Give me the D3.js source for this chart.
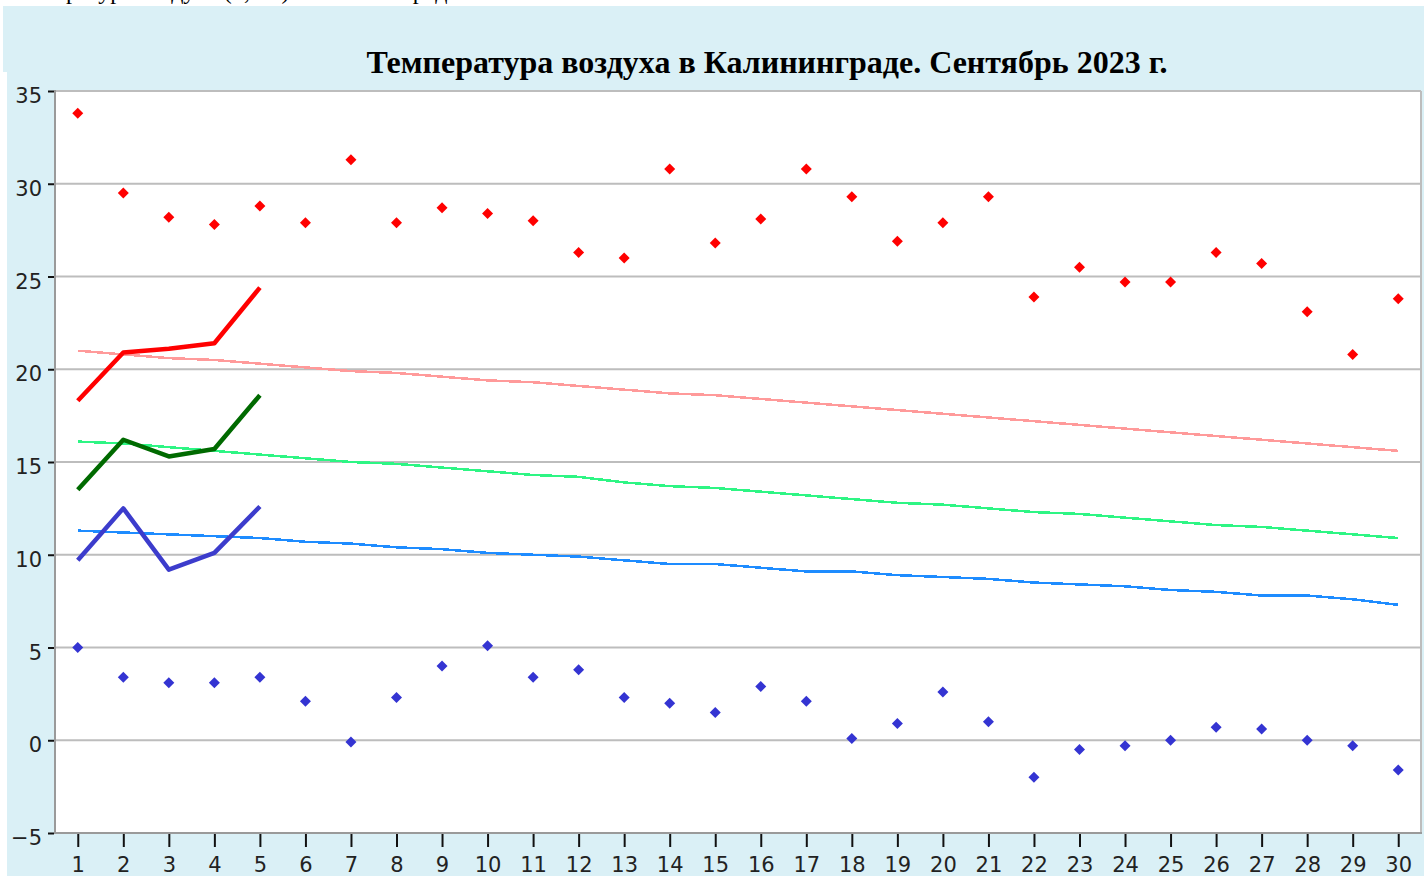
<!DOCTYPE html>
<html><head><meta charset="utf-8">
<script src="https://cdn.jsdelivr.net/npm/d3@7"></script>
<style>html,body{margin:0;padding:0;background:#fff;overflow:hidden}</style>
</head><body>
<svg id="c" width="1424" height="876"></svg>
<script>
const days = d3.range(1, 31);
const titleText = "Температура воздуха в Калининграде. Сентябрь 2023 г.";
const topText = "Температура воздуха (Т, °С) в Калининграде";
const yTicks = [-5, 0, 5, 10, 15, 20, 25, 30, 35];

// absolute extremes (diamonds)
const absMax = [33.8,29.5,28.2,27.8,28.8,27.9,31.3,27.9,28.7,28.4,28.0,26.3,26.0,30.8,26.8,28.1,30.8,29.3,26.9,27.9,29.3,23.9,25.5,24.7,24.7,26.3,25.7,23.1,20.8,23.8];
const absMin = [5.0,3.4,3.1,3.1,3.4,2.1,-0.1,2.3,4.0,5.1,3.4,3.8,2.3,2.0,1.5,2.9,2.1,0.1,0.9,2.6,1.0,-2.0,-0.5,-0.3,0.0,0.7,0.6,0.0,-0.3,-1.6];
// climate normals
const normMax = [21.0,20.8,20.6,20.5,20.3,20.1,19.9,19.8,19.6,19.4,19.3,19.1,18.9,18.7,18.6,18.4,18.2,18.0,17.8,17.6,17.4,17.2,17.0,16.8,16.6,16.4,16.2,16.0,15.8,15.6];
const normMean = [16.1,16.0,15.8,15.6,15.4,15.2,15.0,14.9,14.7,14.5,14.3,14.2,13.9,13.7,13.6,13.4,13.2,13.0,12.8,12.7,12.5,12.3,12.2,12.0,11.8,11.6,11.5,11.3,11.1,10.9];
const normMin = [11.3,11.2,11.1,11.0,10.9,10.7,10.6,10.4,10.3,10.1,10.0,9.9,9.7,9.5,9.5,9.3,9.1,9.1,8.9,8.8,8.7,8.5,8.4,8.3,8.1,8.0,7.8,7.8,7.6,7.3];
// actual 2023 (first 5 days)
const actDays = [1,2,3,4,5];
const actMax = [18.3,20.9,21.1,21.4,24.4];
const actMean = [13.5,16.2,15.3,15.7,18.6];
const actMin = [9.7,12.5,9.2,10.1,12.6];

const svg = d3.select("#c");
const W = 1424, H = 876;
const L = 55, R = 1421, T = 91, B = 833;

svg.append("rect").attr("x",0).attr("y",0).attr("width",W).attr("height",H).attr("fill","#fff");
svg.append("text").attr("x",3).attr("y",-1)
  .attr("font-family","'Liberation Serif', serif").attr("font-size",24).attr("fill","#000")
  .text(topText);
svg.append("rect").attr("x",3).attr("y",6).attr("width",W-3).attr("height",66).attr("fill","#daf0f6");
svg.append("rect").attr("x",7).attr("y",72).attr("width",W-7).attr("height",H-72).attr("fill","#daf0f6");

svg.append("text").attr("x",767).attr("y",73).attr("text-anchor","middle")
  .attr("font-family","'Liberation Serif', serif").attr("font-weight","bold").attr("font-size",32).attr("fill","#000")
  .text(titleText);

const x = d3.scaleLinear().domain([0.5, 30.5]).range([L, R]);
const y = d3.scaleLinear().domain([-5, 35]).range([B, T]);

svg.append("rect").attr("x",L).attr("y",T).attr("width",R-L).attr("height",B-T).attr("fill","#fff");

// gridlines
svg.append("g").selectAll("line").data(yTicks).join("line")
  .attr("x1",L).attr("x2",R).attr("y1",d=>y(d)).attr("y2",d=>y(d))
  .attr("stroke","#bdbdbd").attr("stroke-width",2);
// frame
svg.append("line").attr("x1",R).attr("x2",R).attr("y1",T).attr("y2",B).attr("stroke","#bdbdbd").attr("stroke-width",2);
svg.append("line").attr("x1",L).attr("x2",L).attr("y1",T-1).attr("y2",B+1).attr("stroke","#9a9a9a").attr("stroke-width",2);
svg.append("line").attr("x1",L).attr("x2",R+1).attr("y1",B).attr("y2",B).attr("stroke","#9a9a9a").attr("stroke-width",2);

// axes
const yAxis = d3.axisLeft(y).tickValues(yTicks).tickSize(6).tickPadding(6);
const gy = svg.append("g").attr("transform",`translate(${L-1},0)`).call(yAxis);
gy.select(".domain").remove();
gy.selectAll(".tick line").attr("stroke","#111").attr("stroke-width",2);
gy.selectAll(".tick text").attr("font-family","'DejaVu Sans', sans-serif").attr("font-size",21).attr("fill","#222").attr("dy","0.55em");

const xAxis = d3.axisBottom(x).tickValues(days).tickFormat(d3.format("d")).tickSize(13).tickPadding(6);
const gx = svg.append("g").attr("transform",`translate(0,${B+1})`).call(xAxis);
gx.select(".domain").remove();
gx.selectAll(".tick line").attr("stroke","#111").attr("stroke-width",2);
gx.selectAll(".tick text").attr("font-family","'DejaVu Sans', sans-serif").attr("font-size",21).attr("fill","#222").attr("dy","0.9em");

// normal lines
const ln = d3.line().x((d,i)=>x(days[i])).y(d=>y(d));
[[normMax,"#ff9a9a"],[normMean,"#2ef584"],[normMin,"#1e8cff"]].forEach(([arr,c])=>{
  svg.append("path").datum(arr).attr("d",ln).attr("fill","none").attr("stroke",c).attr("stroke-width",2.5).attr("shape-rendering","crispEdges");
});

// actual lines
const la = d3.line().x((d,i)=>x(actDays[i])).y(d=>y(d));
[[actMax,"#ff0000"],[actMean,"#006a00"],[actMin,"#3c3ccc"]].forEach(([arr,c])=>{
  svg.append("path").datum(arr).attr("d",la).attr("fill","none").attr("stroke",c).attr("stroke-width",4.5).attr("stroke-linejoin","round");
});

// diamonds
const diamond = "M0,-5.5L5.5,0L0,5.5L-5.5,0Z";
svg.append("g").selectAll("path").data(absMax).join("path")
  .attr("d",diamond).attr("transform",(d,i)=>`translate(${x(days[i])},${y(d)})`).attr("fill","#ff0000");
svg.append("g").selectAll("path").data(absMin).join("path")
  .attr("d",diamond).attr("transform",(d,i)=>`translate(${x(days[i])},${y(d)})`).attr("fill","#3434d2");
</script>
</body></html>
